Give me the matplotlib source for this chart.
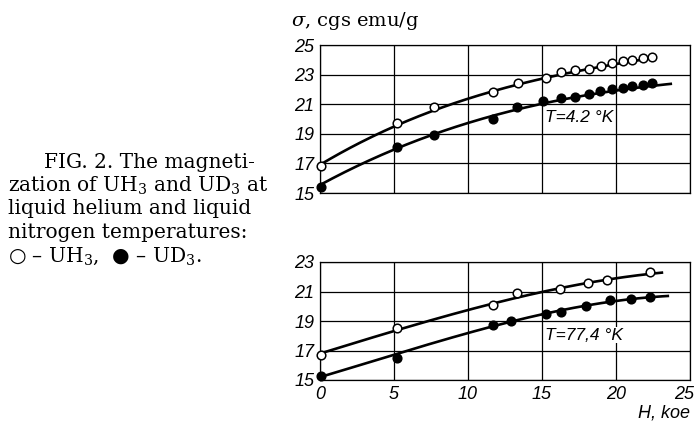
import matplotlib
matplotlib.use("Agg")
import matplotlib.pyplot as plt
from matplotlib import font_manager
import matplotlib.transforms as mtransforms
import numpy as np

# ---- data ----
# T = 4.2 K
h42_uh3 = [0.1, 5.2, 7.7, 11.7, 13.4, 15.3, 16.3, 17.2, 18.2, 19.0, 19.7, 20.5, 21.1, 21.8, 22.4]
s42_uh3 = [16.8, 19.7, 20.8, 21.8, 22.4, 22.8, 23.2, 23.3, 23.4, 23.6, 23.8, 23.9, 24.0, 24.1, 24.2]
h42_ud3 = [0.1, 5.2, 7.7, 11.7, 13.3, 15.1, 16.3, 17.2, 18.2, 18.9, 19.7, 20.5, 21.1, 21.8, 22.4]
s42_ud3 = [15.4, 18.1, 18.9, 20.0, 20.8, 21.2, 21.4, 21.5, 21.7, 21.9, 22.0, 22.1, 22.2, 22.3, 22.4]
# fitted curves, 4.2 K
c42_uh3_h = [0.0, 2.5, 5.0, 7.5, 10.0, 12.5, 15.0, 17.5, 20.0, 22.6]
c42_uh3_s = [16.9, 18.3, 19.5, 20.5, 21.35, 22.1, 22.75, 23.25, 23.7, 24.15]
c42_ud3_h = [0.0, 2.5, 5.0, 7.5, 10.0, 12.5, 15.0, 17.5, 20.0, 23.7]
c42_ud3_s = [15.5, 16.85, 18.0, 18.9, 19.65, 20.4, 21.05, 21.55, 21.95, 22.35]

# T = 77.4 K
h77_uh3 = [0.1, 5.2, 11.7, 13.3, 16.2, 18.1, 19.4, 22.3]
s77_uh3 = [16.7, 18.5, 20.1, 20.9, 21.2, 21.6, 21.8, 22.3]
h77_ud3 = [0.1, 5.2, 11.7, 12.9, 15.3, 16.3, 18.0, 19.6, 21.0, 22.3]
s77_ud3 = [15.3, 16.5, 18.7, 19.0, 19.5, 19.6, 20.0, 20.4, 20.5, 20.6]
# fitted curves, 77.4 K
c77_uh3_h = [0.0, 5.0, 10.0, 15.0, 20.0, 23.1]
c77_uh3_s = [16.8, 18.3, 19.75, 21.0, 21.85, 22.3]
c77_ud3_h = [0.0, 5.0, 10.0, 15.0, 20.0, 23.5]
c77_ud3_s = [15.2, 16.7, 18.2, 19.45, 20.35, 20.7]

xticks = [0, 5, 10, 15, 20, 25]
yticks_top = [15, 17, 19, 21, 23, 25]
yticks_bot = [15, 17, 19, 21, 23]

caption_lines = ["FIG. 2. The magneti-",
                 "zation of UH$_3$ and UD$_3$ at",
                 "liquid helium and liquid",
                 "nitrogen temperatures:",
                 "\u25cb \u2013 UH$_3$,  \u25cf \u2013 UD$_3$."]

plt.rcParams['mathtext.fontset'] = 'dejavuserif'

names = {f.name for f in font_manager.fontManager.ttflist}
narrow = 'Liberation Sans Narrow' if 'Liberation Sans Narrow' in names else 'Liberation Sans'
sans = [narrow, 'DejaVu Sans']

W, H = 698, 426
fig = plt.figure(figsize=(W / 100, H / 100), dpi=100)
fig.patch.set_facecolor('white')

tickfp = font_manager.FontProperties(family=sans, style='italic', size=13)

def make_axes(rect, ylim, yticks):
    ax = fig.add_axes(rect)
    ax.set_xlim(0, 25)
    ax.set_ylim(*ylim)
    ax.set_xticks(xticks)
    ax.set_yticks(yticks)
    ax.grid(True, color='black', linewidth=0.9)
    ax.tick_params(length=0, pad=4)
    for s in ax.spines.values():
        s.set_linewidth(0.9)
    for lab in ax.get_yticklabels() + ax.get_xticklabels():
        lab.set_fontproperties(tickfp)
    return ax

def px_rect(l, t, r, b):
    return [l / W, 1 - b / H, (r - l) / W, (b - t) / H]

ax1 = make_axes(px_rect(320, 45, 690, 193), (15, 25), yticks_top)
ax1.set_xticklabels([])
ax2 = make_axes(px_rect(320, 262, 690, 380), (15, 23), yticks_bot)

# pull the last x tick label ("25") slightly inward so it stays inside the figure
last = ax2.get_xticklabels()[-1]
last.set_transform(last.get_transform() +
                   mtransforms.ScaledTranslation(-6 / 100, 0, fig.dpi_scale_trans))

def smooth(h, s):
    coef = np.polyfit(h, s, 3)
    hh = np.linspace(h[0], h[-1], 200)
    return hh, np.polyval(coef, hh)

for ax, (ch1, cs1, ch2, cs2), (ph1, ps1, ph2, ps2) in [
        (ax1, (c42_uh3_h, c42_uh3_s, c42_ud3_h, c42_ud3_s), (h42_uh3, s42_uh3, h42_ud3, s42_ud3)),
        (ax2, (c77_uh3_h, c77_uh3_s, c77_ud3_h, c77_ud3_s), (h77_uh3, s77_uh3, h77_ud3, s77_ud3))]:
    x1, y1 = smooth(ch1, cs1)
    x2, y2 = smooth(ch2, cs2)
    ax.plot(x1, y1, color='black', lw=1.9, zorder=3, clip_on=False)
    ax.plot(x2, y2, color='black', lw=1.9, zorder=3, clip_on=False)
    ax.plot(ph1, ps1, 'o', ms=6.2, mfc='white', mec='black', mew=1.1, zorder=4, clip_on=False)
    ax.plot(ph2, ps2, 'o', ms=6.2, mfc='black', mec='black', mew=1.1, zorder=4, clip_on=False)

ax1.text(15.2, 20.1, "T=4.2 \u00b0K", fontsize=12.5, family=sans,
         style='italic', ha='left', va='center',
         bbox=dict(facecolor='white', edgecolor='none', pad=0.5))
ax2.text(15.2, 18.05, "T=77,4 \u00b0K", fontsize=12.5, family=sans,
         style='italic', ha='left', va='center',
         bbox=dict(facecolor='white', edgecolor='none', pad=0.5))

fig.text(291 / W, 1 - 21 / H, "$\\sigma$, cgs emu/g", fontsize=14, family=['DejaVu Serif'],
         ha='left', va='center')
fig.text(690 / W, 1 - 413 / H, "H, koe", fontsize=13, family=sans,
         style='italic', ha='right', va='center')

ys = [162, 186, 209, 233, 256]
xs = [44, 8, 8, 8, 8]
for line, x, y in zip(caption_lines, xs, ys):
    fig.text(x / W, 1 - y / H, line, fontsize=14.5, family=['DejaVu Serif'],
             ha='left', va='center')

fig.savefig("out.png", dpi=100, facecolor='white')
